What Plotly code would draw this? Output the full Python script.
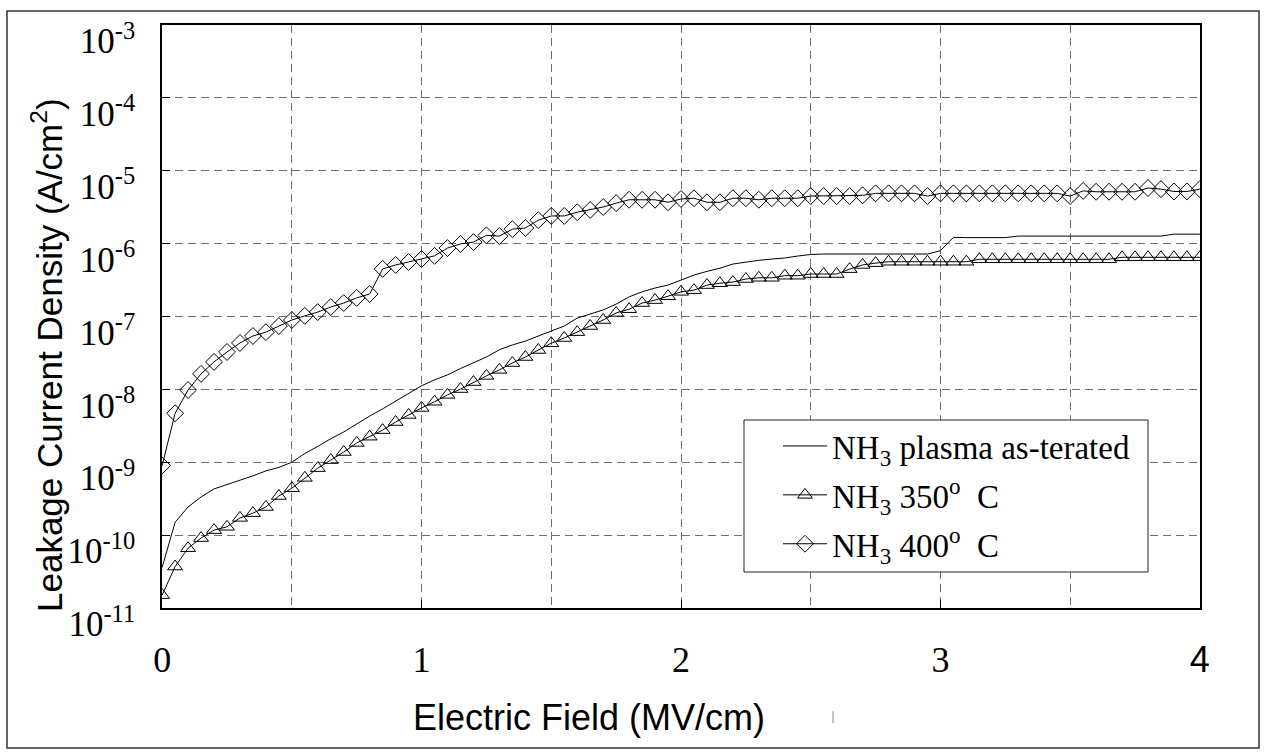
import plotly.graph_objects as go

# ---------------- data ----------------
E_FIELD = [0.00, 0.05, 0.10, 0.15, 0.20, 0.25, 0.30, 0.35, 0.40, 0.45,
           0.50, 0.55, 0.60, 0.65, 0.70, 0.75, 0.80, 0.85, 0.90, 0.95,
           1.00, 1.05, 1.10, 1.15, 1.20, 1.25, 1.30, 1.35, 1.40, 1.45,
           1.50, 1.55, 1.60, 1.65, 1.70, 1.75, 1.80, 1.85, 1.90, 1.95,
           2.00, 2.05, 2.10, 2.15, 2.20, 2.25, 2.30, 2.35, 2.40, 2.45,
           2.50, 2.55, 2.60, 2.65, 2.70, 2.75, 2.80, 2.85, 2.90, 2.95,
           3.00, 3.05, 3.10, 3.15, 3.20, 3.25, 3.30, 3.35, 3.40, 3.45,
           3.50, 3.55, 3.60, 3.65, 3.70, 3.75, 3.80, 3.85, 3.90, 3.95,
           4.00]

J_AS_TREATED = [3.6e-11, 1.5e-10, 2.43e-10, 3.33e-10, 4.3e-10, 4.9e-10, 5.6e-10, 6.5e-10, 7.6e-10, 8.5e-10,
                1.0e-9, 1.32e-9, 1.65e-9, 2.1e-9, 2.6e-9, 3.35e-9, 4.3e-9, 5.4e-9, 6.9e-9, 8.9e-9,
                1.12e-8, 1.35e-8, 1.58e-8, 1.93e-8, 2.29e-8, 2.78e-8, 3.5e-8, 4.07e-8, 4.6e-8, 5.4e-8,
                6.3e-8, 7.4e-8, 9.5e-8, 1.08e-7, 1.23e-7, 1.48e-7, 1.86e-7, 2.18e-7, 2.46e-7, 2.7e-7,
                3.16e-7, 3.7e-7, 4.16e-7, 4.6e-7, 5.25e-7, 5.6e-7, 5.9e-7, 6.15e-7, 6.35e-7, 6.76e-7,
                7.1e-7, 7.2e-7, 7.2e-7, 7.2e-7, 7.2e-7, 7.2e-7, 7.2e-7, 7.2e-7, 7.2e-7, 7.2e-7,
                8.0e-7, 1.22e-6, 1.21e-6, 1.21e-6, 1.21e-6, 1.21e-6, 1.27e-6, 1.27e-6, 1.27e-6, 1.27e-6,
                1.27e-6, 1.27e-6, 1.27e-6, 1.27e-6, 1.27e-6, 1.27e-6, 1.27e-6, 1.27e-6, 1.35e-6, 1.35e-6,
                1.35e-6]

J_350C = [1.5e-11, 3.7e-11, 6.6e-11, 9.1e-11, 1.17e-10, 1.3e-10, 1.72e-10, 2.0e-10, 2.43e-10, 3.44e-10,
          4.4e-10, 6.1e-10, 8.3e-10, 1.07e-9, 1.38e-9, 1.84e-9, 2.24e-9, 2.76e-9, 3.56e-9, 4.45e-9,
          5.56e-9, 6.76e-9, 8.4e-9, 1.01e-8, 1.26e-8, 1.53e-8, 1.85e-8, 2.3e-8, 2.78e-8, 3.47e-8,
          4.3e-8, 5.07e-8, 6.1e-8, 7.4e-8, 8.95e-8, 1.12e-7, 1.26e-7, 1.53e-7, 1.68e-7, 1.9e-7,
          2.18e-7, 2.3e-7, 2.7e-7, 2.86e-7, 2.97e-7, 3.27e-7, 3.4e-7, 3.4e-7, 3.63e-7, 3.63e-7,
          3.83e-7, 3.83e-7, 3.83e-7, 4.47e-7, 5.1e-7, 5.4e-7, 5.65e-7, 5.65e-7, 5.65e-7, 5.65e-7,
          5.65e-7, 5.65e-7, 5.65e-7, 6.1e-7, 6.1e-7, 6.1e-7, 6.1e-7, 6.1e-7, 6.1e-7, 6.1e-7,
          6.1e-7, 6.1e-7, 6.1e-7, 6.1e-7, 6.5e-7, 6.5e-7, 6.5e-7, 6.5e-7, 6.5e-7, 6.5e-7,
          6.5e-7]

J_400C = [9.0e-10, 4.7e-9, 9.8e-9, 1.63e-8, 2.38e-8, 3.26e-8, 4.33e-8, 5.4e-8, 6.1e-8, 7.4e-8,
          8.95e-8, 1.02e-7, 1.15e-7, 1.35e-7, 1.53e-7, 1.8e-7, 2.04e-7, 4.5e-7, 5.1e-7, 5.6e-7,
          6.15e-7, 6.8e-7, 8.7e-7, 9.9e-7, 1.05e-6, 1.3e-6, 1.27e-6, 1.58e-6, 1.64e-6, 2.1e-6,
          2.4e-6, 2.4e-6, 2.7e-6, 2.9e-6, 3.18e-6, 3.6e-6, 4.0e-6, 4.0e-6, 4.0e-6, 3.7e-6,
          4.1e-6, 4.2e-6, 3.7e-6, 3.7e-6, 4.2e-6, 4.2e-6, 4.0e-6, 4.2e-6, 4.2e-6, 4.2e-6,
          4.5e-6, 4.5e-6, 4.5e-6, 4.5e-6, 4.6e-6, 4.9e-6, 4.9e-6, 4.9e-6, 4.9e-6, 4.5e-6,
          4.9e-6, 4.9e-6, 4.9e-6, 4.9e-6, 4.9e-6, 4.9e-6, 4.9e-6, 4.9e-6, 4.9e-6, 4.9e-6,
          4.5e-6, 5.3e-6, 5.15e-6, 5.15e-6, 5.15e-6, 5.15e-6, 5.8e-6, 5.6e-6, 5.2e-6, 5.2e-6,
          5.6e-6]

SERIES_NAMES = ["NH<sub>3</sub> plasma as-terated",
                "NH<sub>3</sub> 350<sup>o</sup>  C",
                "NH<sub>3</sub> 400<sup>o</sup>  C"]

X_TICK_VALS = [0, 1, 2, 3, 4]
X_TICK_TEXT = ["0", "1", "2", "3", "<span style='font-family:Liberation Sans'>4</span>"]
X_MINOR_VALS = [0.5, 1.5, 2.5, 3.5]
Y_TICK_VALS = [1e-11, 1e-10, 1e-9, 1e-8, 1e-7, 1e-6, 1e-5, 1e-4, 1e-3]
Y_TICK_TEXT = ["10<sup>-11</sup>", "10<sup>-10</sup>", "10<sup>-9</sup>", "10<sup>-8</sup>",
               "10<sup>-7</sup>", "10<sup>-6</sup>", "10<sup>-5</sup>", "10<sup>-4</sup>",
               "10<sup>-3</sup>"]

X_TITLE = "Electric Field (MV/cm)"
Y_TITLE = "Leakage Current Density (A/cm<sup>2</sup>)"

SERIF = "Liberation Serif"
SANS = "Liberation Sans"

# ---------------- figure ----------------
fig = go.Figure()

fig.add_trace(go.Scatter(
    x=E_FIELD, y=J_AS_TREATED, mode="lines", name=SERIES_NAMES[0],
    legendgroup="a", line=dict(color="black", width=1)))
fig.add_trace(go.Scatter(
    x=E_FIELD, y=J_350C, mode="lines+markers", name=SERIES_NAMES[1],
    legendgroup="b", line=dict(color="black", width=1),
    marker=dict(symbol="triangle-up-open", size=13, color="black",
                line=dict(width=1, color="black"))))
fig.add_trace(go.Scatter(
    x=E_FIELD, y=J_400C, mode="lines+markers", name=SERIES_NAMES[2],
    legendgroup="c", line=dict(color="black", width=1),
    marker=dict(symbol="diamond-open", size=13, color="black",
                line=dict(width=1, color="black"))))

GRID = dict(gridcolor="#6e6e6e", gridwidth=1, griddash="8px,5px")

fig.update_xaxes(
    range=[-0.0005, 4.0005], tickmode="array", tickvals=X_TICK_VALS, ticktext=X_TICK_TEXT,
    showgrid=True, **GRID,
    ticks="inside", ticklen=8, tickcolor="black", tickwidth=1,
    showline=True, linecolor="black", linewidth=1.6, mirror=True,
    zeroline=False,
    tickfont=dict(family=SERIF, size=36, color="black"),
    ticklabelstandoff=19,
    minor=dict(tickvals=X_MINOR_VALS, showgrid=True, ticks="", **GRID),
)
fig.update_yaxes(
    type="log", range=[-11.0008, -2.9992], tickmode="array", tickvals=Y_TICK_VALS,
    ticktext=Y_TICK_TEXT,
    showgrid=True, **GRID,
    ticks="inside", ticklen=8, tickcolor="black", tickwidth=1,
    showline=True, linecolor="black", linewidth=1.6, mirror=True,
    zeroline=False,
    tickfont=dict(family=SERIF, size=35, color="black"),
    ticklabelstandoff=18, ticklabelshift=16,
)

W, H = 1265, 753
ML, MR, MT, MB = 162, 65, 25, 145
PW, PH = W - ML - MR, H - MT - MB


def px_x(p):
    return (p - ML) / PW


def px_y(p):
    return (H - MB - p) / PH


fig.update_layout(
    width=W, height=H,
    margin=dict(l=ML, r=MR, t=MT, b=MB, pad=0),
    paper_bgcolor="white", plot_bgcolor="white",
    showlegend=True,
    legend=dict(
        x=px_x(778), y=px_y(418), xanchor="left", yanchor="top",
        bgcolor="rgba(0,0,0,0)", borderwidth=0,
        font=dict(family=SERIF, size=33, color="black"),
        tracegroupgap=3, itemwidth=44,
    ),
    annotations=[
        dict(text=X_TITLE, xref="paper", yref="paper", x=px_x(589), y=px_y(717),
             showarrow=False, xanchor="center", yanchor="middle",
             font=dict(family=SANS, size=36, color="black")),
        dict(text=Y_TITLE, xref="paper", yref="paper", x=px_x(47), y=px_y(355),
             showarrow=False, xanchor="center", yanchor="middle", textangle=-90,
             font=dict(family=SANS, size=35, color="black")),
    ],
    shapes=[
        dict(type="rect", xref="paper", yref="paper",
             x0=px_x(7), x1=px_x(1259), y0=px_y(748), y1=px_y(11),
             line=dict(color="#333333", width=1.5), layer="below"),
        dict(type="rect", xref="paper", yref="paper",
             x0=px_x(744), x1=px_x(1148), y0=px_y(572), y1=px_y(420),
             fillcolor="white", line=dict(color="#222222", width=1), layer="above"),
        dict(type="line", xref="paper", yref="paper",
             x0=px_x(833), x1=px_x(833), y0=px_y(711), y1=px_y(723),
             line=dict(color="#888888", width=1)),
    ],
)

fig.write_html("out.html")
